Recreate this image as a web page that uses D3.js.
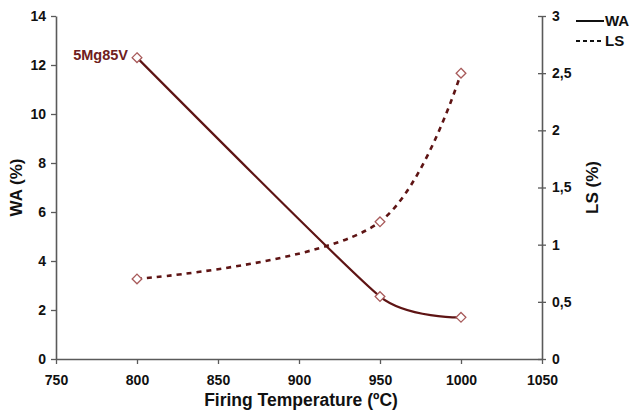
<!DOCTYPE html>
<html>
<head>
<meta charset="utf-8">
<script src="https://cdn.jsdelivr.net/npm/d3@7"></script>
<style>
  html, body { margin: 0; padding: 0; background: #fff; }
  svg { display: block; font-family: "Liberation Sans", Arial, sans-serif; }
</style>
</head>
<body>
<svg id="chart" width="634" height="414"></svg>
<script>
// Firing temperature (ºC) and measured properties of sample 5Mg85V
const temperatures = [800, 950, 1000];
const waValues = [12.3, 2.55, 1.7];   // water absorption, %
const lsValues = [0.7, 1.2, 2.5];     // linear shrinkage, %

const xTicks = [750, 800, 850, 900, 950, 1000, 1050];
const waTicks = [0, 2, 4, 6, 8, 10, 12, 14];
const lsTicks = [0, 0.5, 1, 1.5, 2, 2.5, 3];

const seriesLabel = "5Mg85V";
const legendNames = ["WA", "LS"];

const svg = d3.select("#chart");
const margin = { left: 56, right: 92, top: 16, bottom: 55 };
const W = 634, H = 414;
const x = d3.scaleLinear().domain([750, 1050]).range([margin.left, W - margin.right]);
const yL = d3.scaleLinear().domain([0, 14]).range([H - margin.bottom, margin.top]);
const yR = d3.scaleLinear().domain([0, 3]).range([H - margin.bottom, margin.top]);

const axisColor = "#5a5a5a";
const lineColor = "#5e1414";
const markerColor = "#a85a5a";
const fmt = d => String(d).replace(".", ",");

function styleAxis(g) {
  g.select(".domain").attr("stroke", axisColor).attr("stroke-width", 1.6);
  g.selectAll(".tick line").attr("stroke", axisColor).attr("stroke-width", 1.3);
  g.selectAll(".tick text")
    .attr("fill", "#111")
    .attr("font-weight", "bold")
    .attr("font-size", 14);
}

// Bottom axis
svg.append("g")
  .attr("transform", `translate(0,${H - margin.bottom})`)
  .call(d3.axisBottom(x).tickValues(xTicks).tickFormat(d3.format("d"))
    .tickSize(5).tickSizeOuter(0).tickPadding(11))
  .call(styleAxis);

// Left axis
svg.append("g")
  .attr("transform", `translate(${margin.left},0)`)
  .call(d3.axisLeft(yL).tickValues(waTicks).tickSize(5).tickSizeOuter(0).tickPadding(5))
  .call(styleAxis);

// Right axis, ticks crossing the line
const gR = svg.append("g")
  .attr("transform", `translate(${W - margin.right},0)`)
  .call(d3.axisRight(yR).tickValues(lsTicks).tickFormat(fmt).tickSize(4).tickSizeOuter(0).tickPadding(6))
  .call(styleAxis);
gR.selectAll(".tick line").attr("x1", -4);

// Axis titles
svg.append("text")
  .attr("x", (margin.left + W - margin.right) / 2 + 2)
  .attr("y", 406)
  .attr("text-anchor", "middle")
  .attr("font-weight", "bold").attr("font-size", 17.5).attr("fill", "#111")
  .text("Firing Temperature (ºC)");

svg.append("text")
  .attr("transform", `translate(22,${(margin.top + H - margin.bottom) / 2}) rotate(-90)`)
  .attr("text-anchor", "middle")
  .attr("font-weight", "bold").attr("font-size", 17).attr("fill", "#111")
  .text("WA (%)");

svg.append("text")
  .attr("transform", `translate(598,${(margin.top + H - margin.bottom) / 2}) rotate(-90)`)
  .attr("text-anchor", "middle")
  .attr("font-weight", "bold").attr("font-size", 17).attr("fill", "#111")
  .text("LS (%)");

// Data lines
const waData = temperatures.map((t, i) => [t, waValues[i]]);
const lsData = temperatures.map((t, i) => [t, lsValues[i]]);

const waLine = d3.line().x(d => x(d[0])).y(d => yL(d[1])).curve(d3.curveCardinal.tension(0.5));
const lsLine = d3.line().x(d => x(d[0])).y(d => yR(d[1])).curve(d3.curveCatmullRom.alpha(0.5));

svg.append("path").datum(waData).attr("d", waLine)
  .attr("fill", "none").attr("stroke", lineColor).attr("stroke-width", 2.2);
svg.append("path").datum(lsData).attr("d", lsLine)
  .attr("fill", "none").attr("stroke", lineColor).attr("stroke-width", 2.6)
  .attr("stroke-dasharray", "5,5");

// Diamond markers
const diamond = d3.symbol().type(d3.symbolDiamond2).size(60);
function markers(data, yScale) {
  svg.append("g").selectAll("path").data(data).join("path")
    .attr("d", diamond)
    .attr("transform", d => `translate(${x(d[0])},${yScale(d[1])})`)
    .attr("fill", "#fff").attr("stroke", markerColor).attr("stroke-width", 1.3);
}
markers(waData, yL);
markers(lsData, yR);

// Series label
svg.append("text")
  .attr("x", x(temperatures[0]) - 9)
  .attr("y", yL(waValues[0]) + 2)
  .attr("text-anchor", "end")
  .attr("font-weight", "bold").attr("font-size", 14.5).attr("fill", "#6e2020")
  .text(seriesLabel);

// Legend
const legend = svg.append("g");
legendNames.forEach((name, i) => {
  const ly = 21 + i * 20;
  legend.append("line")
    .attr("x1", 576).attr("x2", 604).attr("y1", ly).attr("y2", ly)
    .attr("stroke", "#111").attr("stroke-width", 2)
    .attr("stroke-dasharray", i === 1 ? "4,3" : null);
  legend.append("text")
    .attr("x", 605).attr("y", ly + 5)
    .attr("font-weight", "bold").attr("font-size", 15).attr("fill", "#111")
    .text(name);
});
</script>
</body>
</html>
